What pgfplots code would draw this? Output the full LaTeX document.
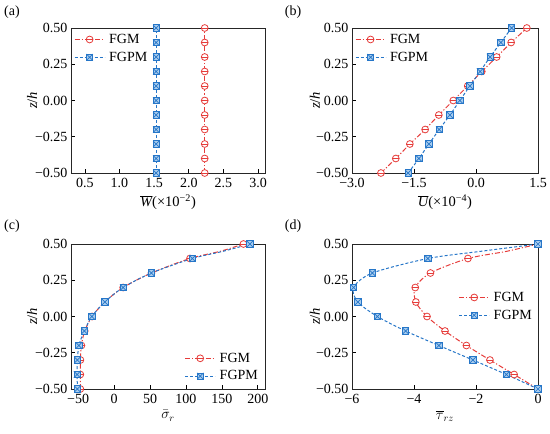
\documentclass[border=0pt]{standalone}
\usepackage{fontspec}
\setmainfont{Liberation Serif}
\usepackage{pgfplots}
\pgfplotsset{compat=1.18}
\definecolor{cred}{RGB}{230,60,58}
\definecolor{cblue}{RGB}{38,118,200}
\definecolor{cfill}{RGB}{170,205,238}
\pgfdeclareplotmark{ominus}{%
  \pgfpathcircle{\pgfpointorigin}{\pgfplotmarksize}\pgfusepathqfillstroke
  \pgfpathmoveto{\pgfpoint{-\pgfplotmarksize}{0pt}}\pgfpathlineto{\pgfpoint{\pgfplotmarksize}{0pt}}\pgfusepathqstroke}
\pgfdeclareplotmark{sqx}{%
  \pgfpathrectangle{\pgfpoint{-\pgfplotmarksize}{-\pgfplotmarksize}}{\pgfpoint{2\pgfplotmarksize}{2\pgfplotmarksize}}\pgfusepathqfillstroke
  \pgfpathmoveto{\pgfpoint{-\pgfplotmarksize}{-\pgfplotmarksize}}\pgfpathlineto{\pgfpoint{\pgfplotmarksize}{\pgfplotmarksize}}
  \pgfpathmoveto{\pgfpoint{-\pgfplotmarksize}{\pgfplotmarksize}}\pgfpathlineto{\pgfpoint{\pgfplotmarksize}{-\pgfplotmarksize}}\pgfusepathqstroke}
\pgfplotsset{
  panel/.style={scale only axis, height=145pt, ymin=-0.5, ymax=0.5,
    ytick={-0.5,-0.25,0,0.25,0.5}, yticklabels={−0.50,−0.25,0.00,0.25,0.50},
    ylabel={\textit{z}/\textit{h}},
    ylabel style={at={(axis description cs:-0.2,0.5)}, anchor=center},
    xtick pos=left, ytick pos=left, tick align=inside, major tick length=4pt,
    tick label style={font=\fontsize{14}{16}\selectfont},
    xticklabel style={yshift=-2pt},
    label style={font=\fontsize{14.5}{16}\selectfont},
    every tick/.style={black, line width=0.7pt},
    axis line style={line width=0.8pt, black!85},
    legend style={draw=none, fill=none, font=\fontsize{14}{16}\selectfont, row sep=3pt, inner sep=1pt,
      nodes={inner xsep=4pt}},
    legend cell align=left,
    legend image code/.code={\draw[mark indices={2},##1] plot coordinates {(0pt,0pt) (15pt,0pt) (30pt,0pt)};},
  },
  fgm/.style={cred, line width=1pt, dash pattern=on 5pt off 2pt on 1.2pt off 2pt, mark=ominus, mark size=3.4pt, mark options={solid, fill=white, line width=0.8pt}},
  fgpm/.style={cblue, line width=1pt, dash pattern=on 3pt off 2pt, mark=sqx, mark size=3.2pt, mark options={solid, fill=cfill, draw=cblue, line width=0.7pt}},
}
\begin{document}
\begin{tikzpicture}
\path[use as bounding box] (0pt,0pt) rectangle (550pt,-434pt);
\node at (12pt,-12pt) {\fontsize{14}{16}\selectfont (a)};
\node at (293pt,-12pt) {\fontsize{14}{16}\selectfont (b)};
\node at (12pt,-226pt) {\fontsize{14}{16}\selectfont (c)};
\node at (293pt,-226pt) {\fontsize{14}{16}\selectfont (d)};
% (a)
\begin{axis}[panel, at={(71pt,-173pt)}, anchor=south west, width=194pt,
  xmin=0.3, xmax=3.1, xtick={0.5,1,1.5,2,2.5,3}, xticklabels={0.5,1.0,1.5,2.0,2.5,3.0},
  xlabel={\(\overline{\hbox{\itshape W}}\)(×10\textsuperscript{−2})},
  legend style={at={(0.01,0.98)}, anchor=north west}]
\addplot[fgm] coordinates {(2.23,-0.5)(2.23,-0.4)(2.23,-0.3)(2.23,-0.2)(2.23,-0.1)(2.23,0)(2.23,0.1)(2.23,0.2)(2.23,0.3)(2.23,0.4)(2.23,0.5)};
\addplot[fgpm] coordinates {(1.53,-0.5)(1.53,-0.4)(1.53,-0.3)(1.53,-0.2)(1.53,-0.1)(1.53,0)(1.53,0.1)(1.53,0.2)(1.53,0.3)(1.53,0.4)(1.53,0.5)};
\legend{FGM,FGPM}
\end{axis}
% (b)
\begin{axis}[panel, at={(352pt,-173pt)}, anchor=south west, width=186pt,
  xmin=-3, xmax=1.5, xtick={-3,-1.5,0,1.5}, xticklabels={−3.0,−1.5,0.0,1.5},
  xlabel={\(\overline{\hbox{\itshape U}}\)(×10\textsuperscript{−4})},
  legend style={at={(0.01,0.98)}, anchor=north west}]
\addplot[fgm] coordinates {(-2.30,-0.5)(-1.94,-0.4)(-1.60,-0.3)(-1.23,-0.2)(-0.90,-0.1)(-0.55,0)(-0.20,0.1)(0.14,0.2)(0.50,0.3)(0.85,0.4)(1.23,0.5)};
\addplot[fgpm] coordinates {(-1.64,-0.5)(-1.38,-0.4)(-1.14,-0.3)(-0.89,-0.2)(-0.63,-0.1)(-0.39,0)(-0.15,0.1)(0.10,0.2)(0.34,0.3)(0.60,0.4)(0.86,0.5)};
\legend{FGM,FGPM}
\end{axis}
% (c)
\begin{axis}[panel, at={(71pt,-389pt)}, anchor=south west, width=194pt,
  xmin=-60, xmax=210, xtick={-50,0,50,100,150,200}, xticklabels={−50,0,50,100,150,200},
  xlabel={\(\bar{\sigma}_r\)},
  legend style={at={(0.99,0.03)}, anchor=south east}]
\addplot[fgm, smooth, mark indices={1,2,3,4,5,6,7,8,9,10,12}] coordinates {(-47,-0.5)(-47,-0.4)(-46.9,-0.3)(-45.5,-0.2)(-40.9,-0.1)(-30.7,0)(-13,0.1)(12.6,0.2)(52,0.3)(105.6,0.4)(148,0.45)(180,0.5)};
\addplot[fgpm, smooth, mark indices={1,2,3,4,5,6,7,8,9,10,12}] coordinates {(-51,-0.5)(-51.5,-0.4)(-51,-0.3)(-49,-0.2)(-41.5,-0.1)(-31,0)(-13,0.1)(12.6,0.2)(52,0.3)(109,0.4)(152,0.45)(189,0.5)};
\legend{FGM,FGPM}
\end{axis}
% (d)
\begin{axis}[panel, at={(352pt,-389pt)}, anchor=south west, width=186pt,
  xmin=-6, xmax=0, xtick={-6,-4,-2,0}, xticklabels={−6,−4,−2,0},
  xlabel={\(\overline{\tau}_{rz}\)},
  legend style={at={(0.995,0.57)}, anchor=east}]
\addplot[fgm, smooth, mark indices={1,2,3,4,5,6,7,8,9,10,12}] coordinates {(0,-0.5)(-0.77,-0.4)(-1.55,-0.3)(-2.31,-0.2)(-3.0,-0.1)(-3.58,0)(-3.94,0.1)(-3.96,0.2)(-3.47,0.3)(-2.26,0.4)(-1.0,0.45)(0,0.5)};
\addplot[fgpm, smooth, mark indices={1,2,3,4,5,6,7,8,9,10,12}] coordinates {(0,-0.5)(-1.02,-0.4)(-2.1,-0.3)(-3.2,-0.2)(-4.27,-0.1)(-5.18,0)(-5.81,0.1)(-5.95,0.2)(-5.34,0.3)(-3.55,0.4)(-1.83,0.45)(0,0.5)};
\legend{FGM,FGPM}
\end{axis}
\end{tikzpicture}
\end{document}
